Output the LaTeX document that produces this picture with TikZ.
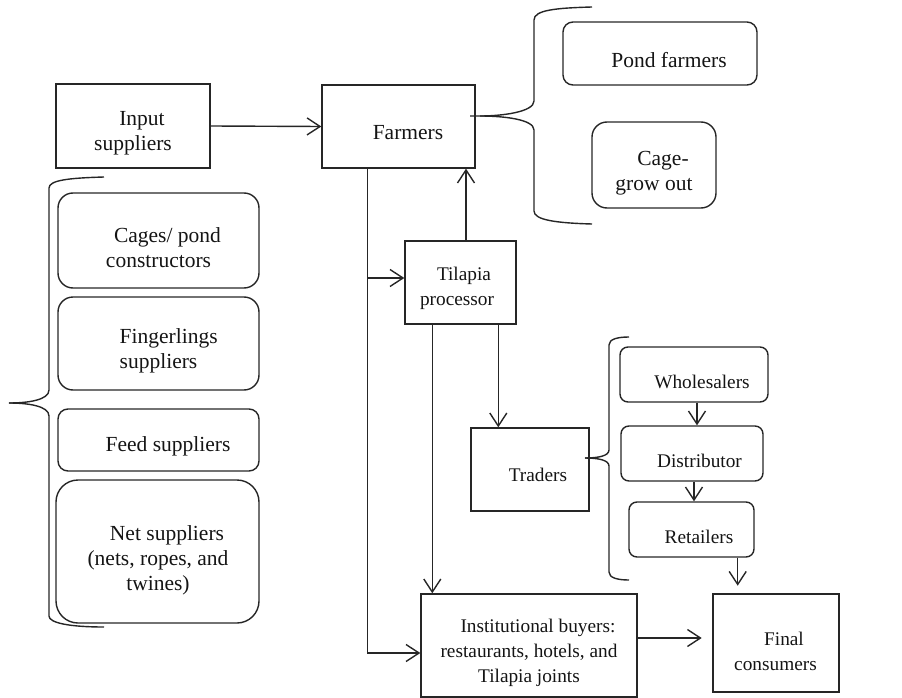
\documentclass[tikz,border=0pt]{standalone}
\usepackage{fontspec}
\setmainfont{Liberation Serif}
\usetikzlibrary{arrows.meta,calc}
\begin{document}
\begin{tikzpicture}[x=1pt,y=-1pt,
  line width=1.4pt,
  ink/.style={draw=black!85},
  sqbox/.style={ink, rectangle, inner sep=0pt},
  rbox/.style={ink, rectangle, rounded corners=#1, inner sep=0pt},
  rbox/.default=10pt,
  bigtxt/.style={inner sep=0pt, align=center, text=black!92, font=\fontsize{21.5}{25}\selectfont},
  smalltxt/.style={inner sep=0pt, align=center, text=black!92, font=\fontsize{19.3}{25}\selectfont},
  arr/.style={ink, -{Straight Barb[length=13pt,width=17pt]}},
  brace/.style={ink}
]
\useasboundingbox (0,0) rectangle (902,698);

% ---- boxes ----
\node[sqbox, minimum width=154pt, minimum height=84pt] (inp) at (133,126) {};
\node[sqbox, minimum width=153pt, minimum height=83pt] (farm) at (398.5,126.5) {};
\node[rbox=10pt, minimum width=194pt, minimum height=63pt] (pond) at (660,53.5) {};
\node[rbox=15pt, minimum width=124pt, minimum height=86pt] (cage) at (654,165) {};

\node[rbox=15pt, minimum width=201pt, minimum height=95pt] (cons) at (158.5,240.5) {};
\node[rbox=15pt, minimum width=201pt, minimum height=93pt] (fing) at (158.5,343.5) {};
\node[rbox=10pt, minimum width=201pt, minimum height=62pt] (feed) at (158.5,440) {};
\node[rbox=22pt, minimum width=203pt, minimum height=143pt] (net) at (157.5,551.5) {};

\node[sqbox, minimum width=111pt, minimum height=83pt] (proc) at (460.5,282.5) {};
\node[sqbox, minimum width=118pt, minimum height=83pt] (trad) at (530,469.5) {};
\node[rbox=8pt, minimum width=148pt, minimum height=55pt] (whole) at (694,374.5) {};
\node[rbox=8pt, minimum width=142pt, minimum height=55pt] (dist) at (692,453.5) {};
\node[rbox=8pt, minimum width=125pt, minimum height=55pt] (ret) at (691.5,529.5) {};
\node[sqbox, line width=2.6pt, minimum width=126pt, minimum height=98pt] (final) at (776,643) {};
\node[sqbox, minimum width=216pt, minimum height=103pt] (inst) at (529,645.5) {};

% ---- texts ----
\node[bigtxt] (inp-t) at (133,133.5) {\hspace*{18pt}Input\\suppliers};
\node[bigtxt] (farm-t) at (408,133) {Farmers};
\node[bigtxt] (pond-t) at (669,60) {Pond farmers};
\node[bigtxt] (cage-t) at (654,173) {\hspace*{18pt}Cage-\\grow out};
\node[bigtxt] (cons-t) at (158.5,248) {\hspace*{18pt}Cages/ pond\\constructors};
\node[bigtxt, align=left, anchor=west] (fing-t) at (119,350.5) {Fingerlings\\suppliers};
\node[bigtxt] (feed-t) at (168,446) {Feed suppliers};
\node[bigtxt] (net-t) at (158,560) {\hspace*{18pt}Net suppliers\\(nets, ropes, and\\twines)};

\node[smalltxt] (proc-t) at (457,288.5) {\hspace*{14pt}Tilapia\\processor};
\node[smalltxt] (trad-t) at (538,475) {Traders};
\node[smalltxt] (whole-t) at (702,382) {Wholesalers};
\node[smalltxt] (dist-t) at (699.5,461) {Distributor};
\node[smalltxt] (ret-t) at (699,537) {Retailers};
\node[smalltxt] (final-t) at (775.5,651) {\hspace*{17pt}Final\\consumers};
\node[smalltxt] (inst-t) at (529,653) {\hspace*{18pt}Institutional buyers:\\restaurants, hotels, and\\Tilapia joints};

% ---- connectors ----
\draw[arr] (inp.east) -- (farm.west);

\coordinate (fdown) at ($(farm.south west)+(46,0)$);
\draw[arr] (fdown) |- ($(inst.west)+(0,7.5)$);
\coordinate (fbranch) at ($(proc.west)+(0,-4.5)$);
\draw[arr] (fbranch -| fdown) -- (fbranch);

\coordinate (pup) at ($(proc.north)+(5.5,0)$);
\draw[arr] (pup) -- (pup |- farm.south);
\coordinate (pinst) at ($(proc.south west)+(28,0)$);
\draw[arr] (pinst) -- (pinst |- inst.north);
\coordinate (ptrad) at ($(proc.south west)+(94,0)$);
\draw[arr] (ptrad) -- (ptrad |- trad.north);

\coordinate (wd) at ($(whole.south)+(3,0)$);
\draw[arr] (wd) -- (wd |- dist.north);
\coordinate (dr) at ($(dist.south)+(2,0)$);
\draw[arr] (dr) -- (dr |- ret.north);
\coordinate (rf) at ($(ret.south east)+(-17,0)$);
\draw[arr, shorten >=7pt] (rf) -- (rf |- final.north);

\coordinate (ifc) at ($(inst.east)+(0,-7.5)$);
\draw[arr, shorten >=10pt] (ifc) -- (ifc -| final.west);

% ---- braces ----
% farmers' types
\draw[brace] (592,7) .. controls (556,8) and (534,10) .. (534,20) -- (534,101)
  .. controls (534,112) and (502,116) .. (480,116) -- (470,116);
\draw[brace] (480,116) .. controls (502,116) and (534,119) .. (534,130) -- (534,211)
  .. controls (534,220) and (556,223) .. (592,224);
% input suppliers' types
\draw[brace] (104,177) .. controls (70,178) and (49,180) .. (49,188) -- (49,390)
  .. controls (49,400) and (28,403) .. (9,403);
\draw[brace] (9,403) .. controls (28,403) and (49,406) .. (49,416) -- (49,616)
  .. controls (49,623) and (70,627) .. (104,627);
% traders' types
\draw[brace] (629,337) .. controls (618,337) and (609,339) .. (609,345) -- (609,450)
  .. controls (609,456) and (598,458) .. (585,458);
\draw[brace] (585,458) .. controls (598,458) and (609,460) .. (609,466) -- (609,572)
  .. controls (609,578) and (618,580) .. (629,580);
\end{tikzpicture}
\end{document}
